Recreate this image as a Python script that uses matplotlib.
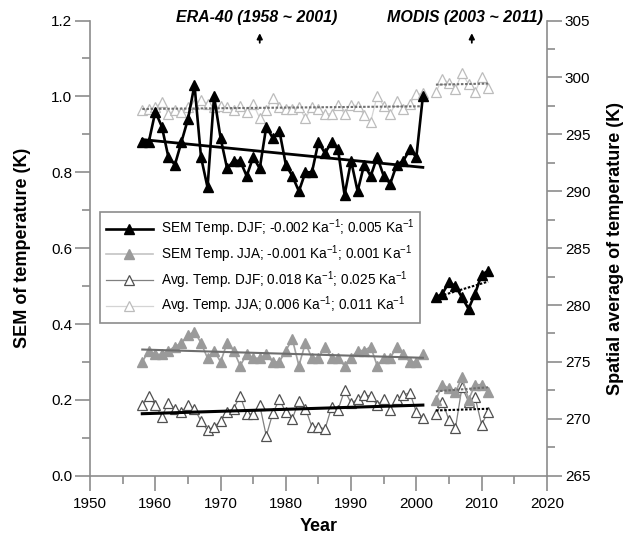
import numpy as np
import matplotlib.pyplot as plt
from matplotlib.lines import Line2D
from matplotlib.ticker import MultipleLocator, FormatStrFormatter

plt.rcParams['font.family'] = 'Liberation Sans'
plt.rcParams['mathtext.fontset'] = 'custom'
plt.rcParams['mathtext.rm'] = 'Liberation Sans'
plt.rcParams['mathtext.it'] = 'Liberation Sans:italic'
plt.rcParams['mathtext.bf'] = 'Liberation Sans:bold'

years_era = np.arange(1958, 2002)
years_modis = np.arange(2003, 2012)

# SEM of temperature (K), left axis
sem_djf_era = [0.88, 0.88, 0.96, 0.92, 0.84, 0.82, 0.88, 0.94, 1.03, 0.84,
               0.76, 1.00, 0.89, 0.81, 0.83, 0.83, 0.79, 0.84, 0.81, 0.92,
               0.89, 0.91, 0.82, 0.79, 0.75, 0.80, 0.80, 0.88, 0.85, 0.88,
               0.86, 0.74, 0.83, 0.75, 0.82, 0.79, 0.84, 0.79, 0.77, 0.82,
               0.83, 0.86, 0.84, 1.00]
sem_djf_modis = [0.47, 0.48, 0.51, 0.50, 0.47, 0.44, 0.48, 0.53, 0.54]
sem_jja_era = [0.30, 0.33, 0.32, 0.32, 0.33, 0.34, 0.35, 0.37, 0.38, 0.35,
               0.31, 0.33, 0.30, 0.35, 0.33, 0.29, 0.32, 0.31, 0.31, 0.32,
               0.30, 0.30, 0.33, 0.36, 0.29, 0.35, 0.31, 0.31, 0.34, 0.31,
               0.31, 0.29, 0.31, 0.33, 0.33, 0.34, 0.29, 0.31, 0.31, 0.34,
               0.32, 0.30, 0.30, 0.32]
sem_jja_modis = [0.20, 0.24, 0.23, 0.22, 0.26, 0.20, 0.24, 0.24, 0.22]

# spatial average of temperature (K), right axis
avg_djf_era = [271.2, 272.0, 271.2, 270.2, 271.4, 270.9, 270.6, 271.2, 270.9, 269.8,
               269.0, 269.3, 269.8, 270.6, 270.9, 272.0, 270.4, 270.4, 271.2, 268.5,
               270.5, 271.7, 270.6, 270.0, 271.6, 270.9, 269.3, 269.3, 269.1, 271.0,
               270.8, 272.5, 271.4, 271.7, 272.1, 272.0, 271.2, 271.7, 270.8, 271.7,
               272.1, 272.3, 270.6, 270.1]
avg_djf_modis = [270.4, 271.5, 269.9, 269.2, 272.8, 271.5, 271.9, 269.5, 270.6]
avg_jja_era = [297.1, 297.2, 297.4, 297.8, 296.8, 297.1, 297.0, 297.4, 297.7, 298.0,
               297.7, 297.4, 297.5, 297.4, 297.1, 297.5, 297.0, 297.7, 296.4, 297.1,
               298.2, 297.4, 297.2, 297.2, 297.4, 296.4, 297.4, 297.2, 296.8, 296.8,
               297.6, 296.8, 297.6, 297.5, 296.7, 296.1, 298.4, 297.5, 296.8, 297.9,
               297.2, 297.7, 298.5, 298.6]
avg_jja_modis = [298.7, 299.9, 299.5, 299.0, 300.4, 299.4, 298.7, 300.0, 299.1]

labels = ['SEM Temp. DJF; -0.002 Ka$^{-1}$; 0.005 Ka$^{-1}$',
          'SEM Temp. JJA; -0.001 Ka$^{-1}$; 0.001 Ka$^{-1}$',
          'Avg. Temp. DJF; 0.018 Ka$^{-1}$; 0.025 Ka$^{-1}$',
          'Avg. Temp. JJA; 0.006 Ka$^{-1}$; 0.011 Ka$^{-1}$']

axis_gray = '#8c8c8c'
ms = 6.8


def trend(axis, x, y, **kw):
    c = np.polyfit(x, y, 1)
    xe = np.array([x[0], x[-1]])
    axis.plot(xe, np.polyval(c, xe), **kw)


fig = plt.figure(figsize=(6.3, 5.4), dpi=100)
ax = fig.add_axes([0.143, 0.119, 0.725, 0.843])
ax2 = ax.twinx()
ax.set_zorder(ax2.get_zorder() + 1)
ax.patch.set_visible(False)

djf_style = dict(color='black', lw=1.9, marker='^', ms=ms, mfc='black', mec='black')
jja_style = dict(color='#a0a0a0', lw=1.2, marker='^', ms=ms, mfc='#9a9a9a', mec='#9a9a9a')
avg_djf_style = dict(color='#808080', lw=0.9, marker='^', ms=ms, mfc='white', mec='#505050', mew=0.9)
avg_jja_style = dict(color='#d4d4d4', lw=0.9, marker='^', ms=ms, mfc='white', mec='#bcbcbc', mew=0.9)

# right axis: averages
ax2.plot(years_era, avg_jja_era, **avg_jja_style)
ax2.plot(years_modis, avg_jja_modis, **avg_jja_style)
trend(ax2, years_era, avg_jja_era, color='#707070', lw=1.5, ls=(0, (1.2, 0.8)))
trend(ax2, years_modis, avg_jja_modis, color='#707070', lw=1.5, ls=(0, (1.2, 0.8)))
ax2.plot(years_era, avg_djf_era, **avg_djf_style)
ax2.plot(years_modis, avg_djf_modis, **avg_djf_style)
trend(ax2, years_era, avg_djf_era, color='black', lw=2.2)
trend(ax2, years_modis, avg_djf_modis, color='black', lw=1.5, ls=(0, (1.2, 0.8)))

# left axis: SEM
ax.plot(years_era, sem_jja_era, **jja_style)
ax.plot(years_modis, sem_jja_modis, **jja_style)
trend(ax, years_era, sem_jja_era, color='#6e6e6e', lw=1.5)
trend(ax, years_modis, sem_jja_modis, color='#6e6e6e', lw=1.5, ls=(0, (1.2, 0.8)))
ax.plot(years_era, sem_djf_era, **djf_style)
ax.plot(years_modis, sem_djf_modis, **djf_style)
trend(ax, years_era, sem_djf_era, color='black', lw=2.0)
trend(ax, years_modis, sem_djf_modis, color='black', lw=1.5, ls=(0, (1.2, 0.8)))

ax.set_xlim(1950, 2020)
ax.set_ylim(0, 1.2)
ax2.set_ylim(265, 305)

ax.xaxis.set_major_locator(MultipleLocator(10))
ax.xaxis.set_minor_locator(MultipleLocator(5))
ax.yaxis.set_major_locator(MultipleLocator(0.2))
ax.yaxis.set_minor_locator(MultipleLocator(0.1))
ax.yaxis.set_major_formatter(FormatStrFormatter('%.1f'))
ax2.yaxis.set_major_locator(MultipleLocator(5))
ax2.yaxis.set_minor_locator(MultipleLocator(2.5))

for a in (ax, ax2):
    a.tick_params(which='major', direction='out', length=11, width=1.2, color=axis_gray,
                  labelsize=11, pad=2)
    a.tick_params(which='minor', direction='out', length=5.5, width=1.2, color=axis_gray)
    for s in a.spines.values():
        s.set_color(axis_gray)
        s.set_linewidth(1.2)
    a.spines['top'].set_visible(False)
ax.tick_params(axis='x', which='major', pad=4)
ax.spines['right'].set_visible(False)
ax2.spines['left'].set_visible(False)
ax2.spines['bottom'].set_visible(False)

ax.set_xlabel('Year', fontsize=13, fontweight='bold', labelpad=5)
ax.set_ylabel('SEM of temperature (K)', fontsize=13, fontweight='bold', labelpad=14)
ax2.set_ylabel('Spatial average of temperature (K)', fontsize=13, fontweight='bold', labelpad=12)

ax.text(1975.6, 1.207, 'ERA-40 (1958 ~ 2001)', ha='center', va='center', fontsize=11.5,
        fontweight='bold', style='italic', clip_on=False)
ax.text(2007.4, 1.207, 'MODIS (2003 ~ 2011)', ha='center', va='center', fontsize=11.5,
        fontweight='bold', style='italic', clip_on=False)
for xa in (1976, 2008.5):
    ax.annotate('', xy=(xa, 1.174), xytext=(xa, 1.134),
                arrowprops=dict(arrowstyle='-|>', color='black', lw=1.3, mutation_scale=8),
                annotation_clip=False)

handles = [Line2D([], [], **djf_style),
           Line2D([], [], **dict(jja_style, color='#c4c4c4')),
           Line2D([], [], **avg_djf_style),
           Line2D([], [], **avg_jja_style)]
leg = ax.legend(handles, labels, loc='upper left', bbox_to_anchor=(0.022, 0.58),
                fontsize=9.8, frameon=True, fancybox=False, edgecolor=axis_gray,
                framealpha=1, handlelength=3.4, borderpad=0.45, labelspacing=0.3,
                handletextpad=0.6, borderaxespad=0)
leg.get_frame().set_linewidth(1.2)

fig.savefig('out.png', dpi=100)
